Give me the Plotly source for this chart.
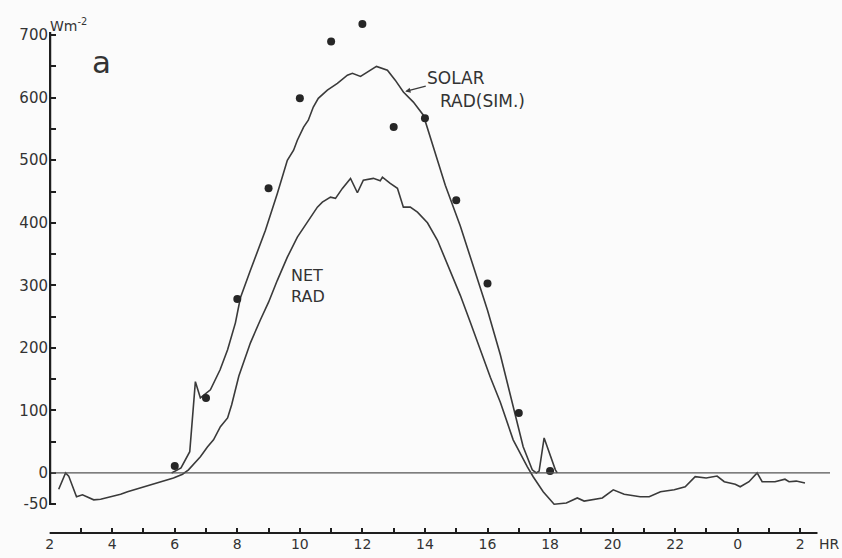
import plotly.graph_objects as go

# ---- data (hours of day, W m-2) ----
net_hours = [2.29, 2.51, 2.61, 2.86, 3.05, 3.41, 3.63, 3.95, 4.27, 4.49, 5.0, 5.55, 5.96, 6.25, 6.44,
             6.82, 7.05, 7.24, 7.46, 7.69, 7.82, 8.05, 8.42, 8.74, 9.0, 9.28, 9.6, 9.92, 10.24, 10.56,
             10.72, 10.98, 11.14, 11.36, 11.62, 11.84, 12.03, 12.35, 12.57, 12.64, 12.89, 13.12, 13.31,
             13.53, 13.76, 14.08, 14.4, 14.81, 15.13, 15.45, 15.77, 16.09, 16.41, 16.82, 17.27, 17.46,
             17.78, 18.0, 18.13, 18.52, 18.87, 19.09, 19.67, 20.02, 20.37, 20.88, 21.17, 21.53, 21.97,
             22.32, 22.64, 22.99, 23.34, 23.57, 23.92, 24.08, 24.36, 24.62, 24.78, 25.19, 25.51, 25.64,
             25.87, 26.15]
net_values = [-26, 0, -5, -38, -35, -43, -42, -38, -34, -30, -22, -14, -8, -2, 5,
              26, 42, 53, 74, 88, 109, 155, 208, 245, 273, 308, 345, 377, 400, 425,
              433, 441, 439, 455, 471, 448, 468, 471, 467, 473, 463, 455, 425,
              425, 417, 400, 372, 324, 284, 241, 197, 153, 113, 53, 10, -6,
              -30, -42, -50, -48, -40, -45, -40, -27, -34, -38, -38, -30, -27,
              -22, -6, -8, -5, -14, -18, -22, -14, 0, -14, -14, -10, -14,
              -13, -16]

solar_hours = [5.9, 6.2, 6.48, 6.66, 6.82, 7.14, 7.45, 7.69, 7.94, 8.1, 8.42, 8.9, 9.28, 9.6, 9.8,
               9.92, 10.12, 10.27, 10.43, 10.59, 10.88, 11.2, 11.52, 11.68, 11.94, 12.26, 12.45, 12.8,
               13.05, 13.31, 13.63, 13.95, 14.27, 14.65, 15.13, 15.61, 16.0, 16.41, 16.82, 17.14,
               17.43, 17.56, 17.65, 17.81, 18.17, 18.23]
solar_values = [0, 8, 34, 146, 120, 133, 165, 197, 240, 280, 324, 388, 447, 500, 516,
                532, 553, 564, 585, 599, 612, 623, 636, 639, 634, 644, 650, 644,
                628, 609, 593, 572, 521, 460, 395, 320, 260, 189, 105, 42,
                5, 0, 3, 56, 5, 0]

obs_hours = [6, 7, 8, 9, 10, 11, 12, 13, 14, 15, 16, 17, 18]
obs_values = [11, 120, 278, 455, 599, 690, 718, 553, 567, 436, 303, 96, 3]

x_tick_hours = list(range(2, 27))
x_tick_text = ['2', '', '4', '', '6', '', '8', '', '10', '', '12', '', '14', '', '16', '',
               '18', '', '20', '', '22', '', '0', '', '2']
y_tick_vals = list(range(-50, 701, 50))
y_tick_text = ['-50', '0', '', '100', '', '200', '', '300', '', '400', '', '500', '', '600', '', '700']

INK = '#3a3a3a'
AXIS = '#1e1e1e'
BG = '#fbfbfb'
FONT = 'DejaVu Sans'

fig = go.Figure()
fig.add_trace(go.Scatter(x=net_hours, y=net_values, mode='lines',
                         line=dict(color=INK, width=1.6), hoverinfo='skip'))
fig.add_trace(go.Scatter(x=solar_hours, y=solar_values, mode='lines',
                         line=dict(color=INK, width=1.6), hoverinfo='skip'))
fig.add_trace(go.Scatter(x=obs_hours, y=obs_values, mode='markers',
                         marker=dict(color='#262626', size=8), hoverinfo='skip'))

# zero reference line, value-axis line (from -50 to top) and detached time-axis line
fig.add_shape(type='line', xref='x', yref='y', x0=2, x1=26.95, y0=0, y1=0,
              line=dict(color='#555555', width=1.2))
fig.add_shape(type='line', xref='x', yref='y', x0=2.01, x1=2.01, y0=-50, y1=705,
              line=dict(color=AXIS, width=2.6), layer='above')
fig.add_shape(type='line', xref='x', yref='paper', x0=2, x1=26.55, y0=0.002, y1=0.002,
              line=dict(color=AXIS, width=2))

ann = [
    dict(x=-0.001, y=1.004, xref='paper', yref='paper', text='Wm<sup>-2</sup>',
         font=dict(size=14, color='#333')),
    dict(x=3.66, y=657, text='a', font=dict(size=31, color='#333')),
    dict(x=14.43, y=594.5, text='RAD(SIM.)', xanchor='left', font=dict(size=17, color='#333')),
    dict(x=10.27, y=299, text='NET<br>RAD', align='left', font=dict(size=16, color='#333')),
    dict(x=26.54, y=-0.02, yref='paper', text='HR', xanchor='left', yanchor='middle',
         font=dict(size=14, color='#333')),
]
for a in ann:
    a.setdefault('xref', 'x')
    a.setdefault('yref', 'y')
    a.setdefault('showarrow', False)
    fig.add_annotation(**a)

# "SOLAR" label with its pointer to the simulated curve
fig.add_annotation(x=13.37, y=610, xref='x', yref='y', text='SOLAR',
                   ax=51, ay=-13, axref='pixel', ayref='pixel',
                   showarrow=True, arrowhead=2, arrowsize=0.8, arrowwidth=1.3,
                   arrowcolor=INK, standoff=0, font=dict(size=17, color='#333'))

fig.update_layout(
    width=842, height=558,
    margin=dict(l=49, r=12, t=16, b=24),
    paper_bgcolor=BG, plot_bgcolor=BG,
    showlegend=False,
    font=dict(family=FONT, color='#333'),
)
fig.update_xaxes(range=[1.98, 26.95], automargin=False,
                 showline=False, showgrid=False, zeroline=False,
                 ticks='inside', ticklen=6, tickwidth=1.8, tickcolor=AXIS,
                 tickvals=x_tick_hours, ticktext=x_tick_text,
                 tickfont=dict(size=14, color='#333', family=FONT))
fig.update_yaxes(range=[-97.6, 730.6], automargin=False,
                 showline=False, showgrid=False, zeroline=False,
                 ticks='inside', ticklen=7, tickwidth=2.2, tickcolor=AXIS,
                 tickvals=y_tick_vals, ticktext=y_tick_text,
                 tickfont=dict(size=15, color='#333', family=FONT))

fig.write_html('out.html')
